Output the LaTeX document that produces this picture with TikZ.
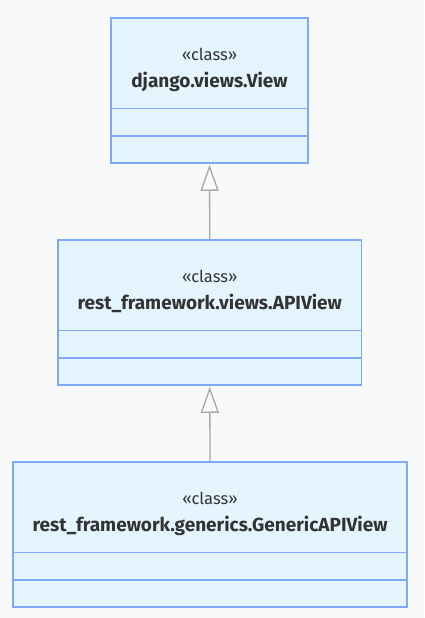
\documentclass[tikz,border=0pt]{standalone}
\usepackage{fontspec}
\setmainfont{Fira Sans}
\usetikzlibrary{arrows.meta}
\definecolor{bg}{HTML}{F8F9FB}
\definecolor{boxfill}{HTML}{E4F5FE}
\definecolor{boxline}{HTML}{80A9F7}
\definecolor{txt}{HTML}{333333}
\definecolor{arr}{HTML}{A8A8A8}
\tikzset{
  x=1pt, y=-1pt,
  classbox/.style={draw=boxline, fill=boxfill, line width=1.6pt, minimum height=145pt, inner sep=0pt},
  stereo/.style={text=txt, font=\fontsize{16.5}{18}\selectfont, inner sep=0pt},
  cname/.style={text=txt, font=\fontsize{19}{22}\selectfont\bfseries, inner sep=0pt},
  divider/.style={draw=boxline, line width=1.2pt},
  inherit/.style={draw=arr, line width=1.3pt, -{Triangle[open, length=26pt, width=18pt, line width=1.3pt]}, shorten >=1pt}
}
\begin{document}
\begin{tikzpicture}
\useasboundingbox[fill=bg] (0,0) rectangle (424,618);
% boxes
\node[classbox, minimum width=197pt] (top) at (209.5,90.5) {};
\node[classbox, minimum width=303.5pt] (mid) at (209.75,312.5) {};
\node[classbox, minimum width=394pt] (bot) at (210,534.5) {};
% texts
\foreach \b/\n in {top/django.views.View, mid/rest\_framework.views.APIView, bot/rest\_framework.generics.GenericAPIView}{
  \node[stereo] (\b-st) at ([yshift=-37.5pt]\b.north) {«class»};
  \node[cname] (\b-nm) at ([yshift=-64.5pt]\b.north) {\n};
  \draw[divider] ([yshift=-91.3pt]\b.north west) -- ([yshift=-91.3pt]\b.north east);
  \draw[divider] ([yshift=-118.7pt]\b.north west) -- ([yshift=-118.7pt]\b.north east);
}
% inheritance arrows
\draw[inherit] (mid.north) -- (top.south);
\draw[inherit] (bot.north) -- (mid.south);
\end{tikzpicture}
\end{document}
